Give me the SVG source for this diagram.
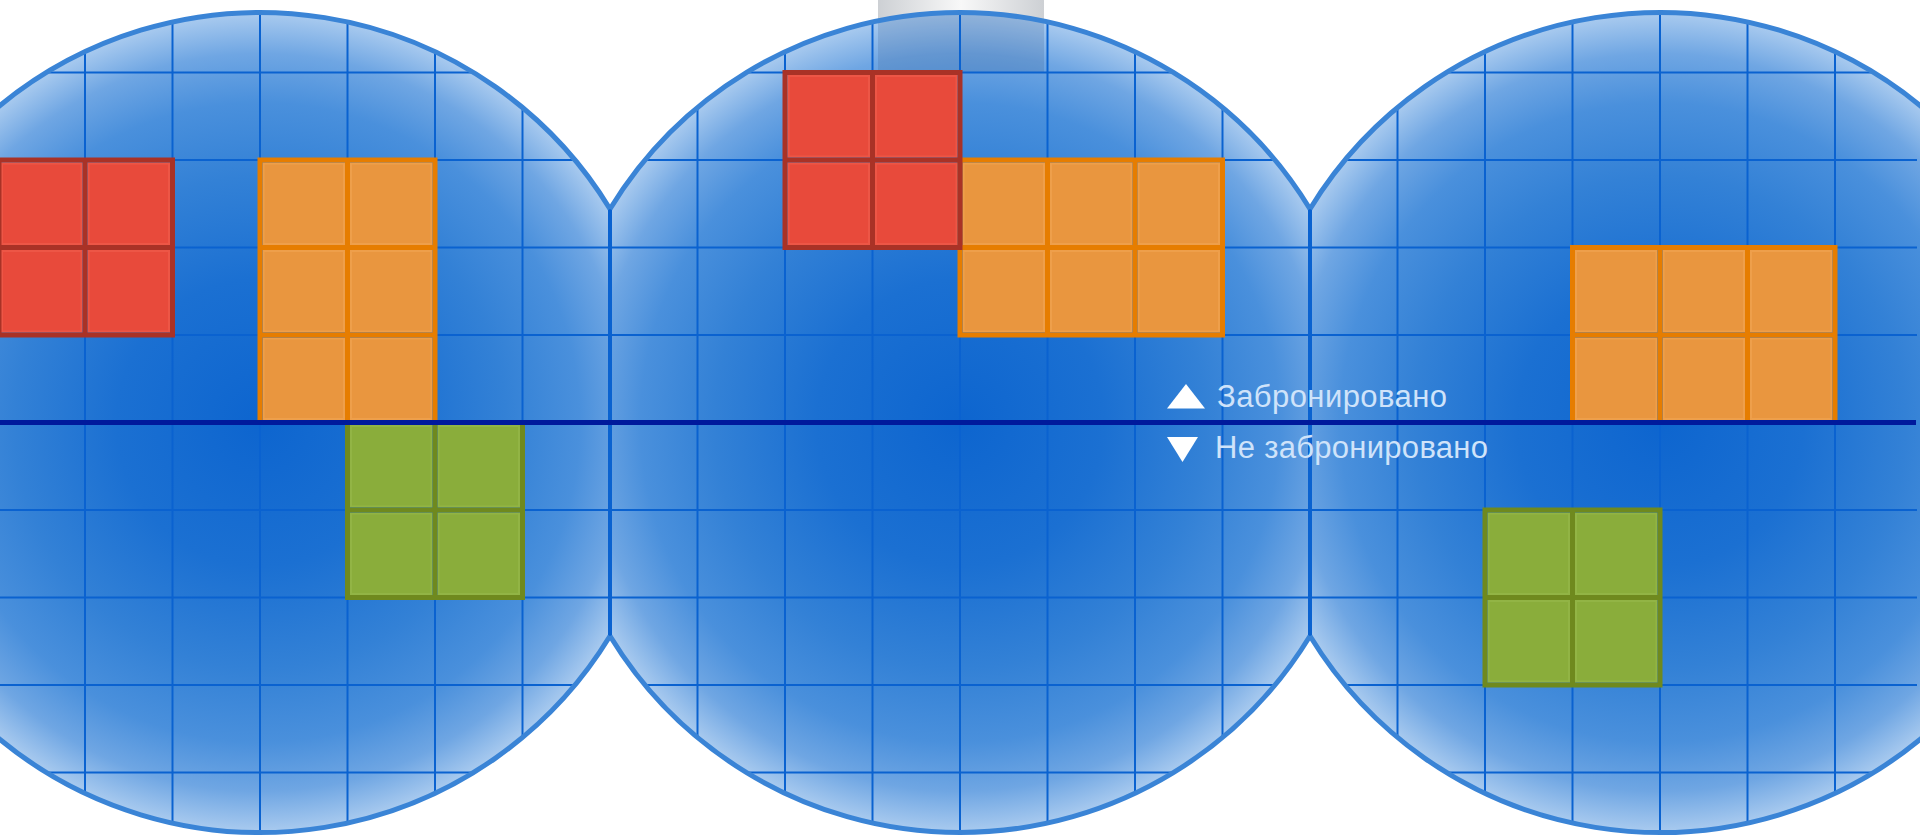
<svg xmlns="http://www.w3.org/2000/svg" width="1920" height="837" viewBox="0 0 1920 837">
  <style>
    .grid { fill: none; stroke: #0a62d0; stroke-width: 2; }
    .gridSeam { fill: none; stroke: #0a62d0; stroke-width: 4; }
    .rim { fill: none; stroke: #3a84d6; stroke-width: 5; }
    .axis { fill: none; stroke: #001a9c; stroke-width: 5; }
    .red .cell { fill: #e84a3b; stroke: #ed5646; stroke-width: 2; }
    .red .frame { fill: none; stroke: #a93226; stroke-width: 5; }
    .orange .cell { fill: #e9963f; stroke: #ee9f4b; stroke-width: 2; }
    .orange .frame { fill: none; stroke: #e67d00; stroke-width: 5; }
    .green .cell { fill: #8aad3b; stroke: #92b445; stroke-width: 2; }
    .green .frame { fill: none; stroke: #6f891e; stroke-width: 5; }
    .legend { font-family: "Liberation Sans", Arial, sans-serif; font-size: 31px; fill: #cfe3fa; }
    .tri { fill: #ffffff; }
  </style>
  <defs>
    <radialGradient id="wafer" gradientUnits="userSpaceOnUse" cx="0" cy="0" r="410">
      <stop offset="0" stop-color="#0d65cf"/>
      <stop offset="0.35" stop-color="#1b70d2"/>
      <stop offset="0.6" stop-color="#3381d6"/>
      <stop offset="0.78" stop-color="#4a90dc"/>
      <stop offset="0.9" stop-color="#6fa6e3"/>
      <stop offset="1" stop-color="#aacbef"/>
    </radialGradient>
    <radialGradient id="w1" href="#wafer" cx="260" cy="422.5" r="410"/>
    <radialGradient id="w2" href="#wafer" cx="960" cy="422.5" r="410"/>
    <radialGradient id="w3" href="#wafer" cx="1660" cy="422.5" r="410"/>
    <linearGradient id="bar" x1="0" y1="0" x2="1" y2="0">
      <stop offset="0" stop-color="#cdd0d4"/>
      <stop offset="0.5" stop-color="#f8f8f8"/>
      <stop offset="1" stop-color="#cdd0d4"/>
    </linearGradient>
    <clipPath id="wafers">
      <circle cx="260" cy="422.5" r="410"/>
      <circle cx="960" cy="422.5" r="410"/>
      <circle cx="1660" cy="422.5" r="410"/>
    </clipPath>
  </defs>

  <rect width="1920" height="837" fill="#ffffff"/>

  <g id="holder">
    <rect x="878" y="0" width="166" height="72" fill="url(#bar)"/>
  </g>

  <g id="wafer-1">
    <path d="M610,208.96 A410,410 0 1 0 610,636.04 Z" fill="url(#w1)"/>
  </g>
  <g id="wafer-2">
    <path d="M610,208.96 A410,410 0 0 1 1310,208.96 L1310,636.04 A410,410 0 0 1 610,636.04 Z" fill="url(#w2)"/>
  </g>
  <g id="wafer-3">
    <path d="M1310,208.96 A410,410 0 1 1 1310,636.04 Z" fill="url(#w3)"/>
  </g>

  <g id="holder-shadow" clip-path="url(#wafers)">
    <rect x="878" y="0" width="166" height="72" fill="#37588a" opacity="0.2"/>
  </g>

  <g id="grid" clip-path="url(#wafers)">
    <path class="grid" d="M85,0V837 M172.5,0V837 M260,0V837 M347.5,0V837 M435,0V837 M522.5,0V837 M697.5,0V837 M785,0V837 M872.5,0V837 M960,0V837 M1047.5,0V837 M1135,0V837 M1222.5,0V837 M1397.5,0V837 M1485,0V837 M1572.5,0V837 M1660,0V837 M1747.5,0V837 M1835,0V837 M0,72.5H1917 M0,160H1917 M0,247.5H1917 M0,335H1917 M0,510H1917 M0,597.5H1917 M0,685H1917 M0,772.5H1917"/>
    <path class="gridSeam" d="M610,208.96V636.04 M1310,208.96V636.04"/>
  </g>

  <g id="rims">
    <path class="rim" d="M610,208.96 A410,410 0 1 0 610,636.04"/>
    <path class="rim" d="M610,208.96 A410,410 0 0 1 1310,208.96 M1310,636.04 A410,410 0 0 1 610,636.04"/>
    <path class="rim" d="M1310,208.96 A410,410 0 1 1 1310,636.04"/>
  </g>

  <g id="block-red-1" class="red">
    <rect class="cell" x="2" y="163.5" width="79.5" height="80.5"/>
    <rect class="cell" x="88.5" y="163.5" width="80.5" height="80.5"/>
    <rect class="cell" x="2" y="251" width="79.5" height="80.5"/>
    <rect class="cell" x="88.5" y="251" width="80.5" height="80.5"/>
    <path class="frame" d="M-1,160H172.5V335H-1Z M85,160V335 M-1,247.5H172.5"/>
  </g>

  <g id="block-orange-1" class="orange">
    <rect class="cell" x="263.5" y="163.5" width="80.5" height="80.5"/>
    <rect class="cell" x="351" y="163.5" width="80.5" height="80.5"/>
    <rect class="cell" x="263.5" y="251" width="80.5" height="80.5"/>
    <rect class="cell" x="351" y="251" width="80.5" height="80.5"/>
    <rect class="cell" x="263.5" y="338.5" width="80.5" height="80.5"/>
    <rect class="cell" x="351" y="338.5" width="80.5" height="80.5"/>
    <path class="frame" d="M260,160H435V422.5H260Z M347.5,160V422.5 M260,247.5H435 M260,335H435"/>
  </g>

  <g id="block-green-1" class="green">
    <rect class="cell" x="351" y="426" width="80.5" height="80.5"/>
    <rect class="cell" x="438.5" y="426" width="80.5" height="80.5"/>
    <rect class="cell" x="351" y="513.5" width="80.5" height="80.5"/>
    <rect class="cell" x="438.5" y="513.5" width="80.5" height="80.5"/>
    <path class="frame" d="M347.5,422.5H522.5V597.5H347.5Z M435,422.5V597.5 M347.5,510H522.5"/>
  </g>

  <g id="block-orange-2" class="orange">
    <rect class="cell" x="963.5" y="163.5" width="80.5" height="80.5"/>
    <rect class="cell" x="1051" y="163.5" width="80.5" height="80.5"/>
    <rect class="cell" x="1138.5" y="163.5" width="80.5" height="80.5"/>
    <rect class="cell" x="963.5" y="251" width="80.5" height="80.5"/>
    <rect class="cell" x="1051" y="251" width="80.5" height="80.5"/>
    <rect class="cell" x="1138.5" y="251" width="80.5" height="80.5"/>
    <path class="frame" d="M960,160H1222.5V335H960Z M1047.5,160V335 M1135,160V335 M960,247.5H1222.5"/>
  </g>

  <g id="block-red-2" class="red">
    <rect class="cell" x="788.5" y="76" width="80.5" height="80.5"/>
    <rect class="cell" x="876" y="76" width="80.5" height="80.5"/>
    <rect class="cell" x="788.5" y="163.5" width="80.5" height="80.5"/>
    <rect class="cell" x="876" y="163.5" width="80.5" height="80.5"/>
    <path class="frame" d="M785,72.5H960V247.5H785Z M872.5,72.5V247.5 M785,160H960"/>
  </g>

  <g id="block-orange-3" class="orange">
    <rect class="cell" x="1576" y="251" width="80.5" height="80.5"/>
    <rect class="cell" x="1663.5" y="251" width="80.5" height="80.5"/>
    <rect class="cell" x="1751" y="251" width="80.5" height="80.5"/>
    <rect class="cell" x="1576" y="338.5" width="80.5" height="80.5"/>
    <rect class="cell" x="1663.5" y="338.5" width="80.5" height="80.5"/>
    <rect class="cell" x="1751" y="338.5" width="80.5" height="80.5"/>
    <path class="frame" d="M1572.5,247.5H1835V422.5H1572.5Z M1660,247.5V422.5 M1747.5,247.5V422.5 M1572.5,335H1835"/>
  </g>

  <g id="block-green-2" class="green">
    <rect class="cell" x="1488.5" y="513.5" width="80.5" height="80.5"/>
    <rect class="cell" x="1576" y="513.5" width="80.5" height="80.5"/>
    <rect class="cell" x="1488.5" y="601" width="80.5" height="80.5"/>
    <rect class="cell" x="1576" y="601" width="80.5" height="80.5"/>
    <path class="frame" d="M1485,510H1660V685H1485Z M1572.5,510V685 M1485,597.5H1660"/>
  </g>

  <g id="axis">
    <path class="axis" d="M0,422.5H1916"/>
  </g>

  <g id="legend">
    <polygon class="tri" points="1167,408.5 1205,408.5 1186,384"/>
    <text class="legend" x="1217" y="406.5" textLength="230">Забронировано</text>
    <polygon class="tri" points="1167,437 1198,437 1182.5,462"/>
    <text class="legend" x="1215" y="457.5" textLength="273">Не забронировано</text>
  </g>
</svg>
